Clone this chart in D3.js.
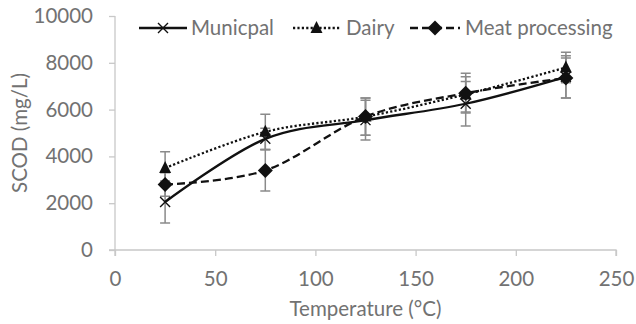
<!DOCTYPE html>
<html>
<head>
<meta charset="utf-8">
<script src="https://cdn.jsdelivr.net/npm/d3@7"></script>
<style>
	body { margin: 0; background: #fff; }
	text { font-family: Lato, "Open Sans", sans-serif; fill: #727272; }
</style>
</head>
<body>
<div id="chart"></div>
<script>

// values
var temps = [25, 75, 125, 175, 225]
var municipal = [2050, 4750, 5550, 6250, 7400]
var municipalErr = [900, 450, 850, 950, 900]
var dairy = [3500, 5050, 5700, 6650, 7800]
var dairyErr = [700, 750, 800, 750, 650]
var meat = [2800, 3400, 5700, 6700, 7350]
var meatErr = [500, 880, 800, 850, 850]
var xTicks = [0, 50, 100, 150, 200, 250]
var yTicks = [0, 2000, 4000, 6000, 8000, 10000]

var width = 636, height = 324
var margin = {top: 16, right: 20, bottom: 74, left: 115}
var fontSize = 20.5

var svg = d3.select("#chart").append("svg")
	.attr("width", width)
	.attr("height", height)

var x = d3.scaleLinear()
	.domain([0, 250])
	.range([margin.left, width - margin.right])

var y = d3.scaleLinear()
	.domain([0, 10000])
	.range([height - margin.bottom, margin.top])

var xAxis = d3.axisBottom(x).tickValues(xTicks).tickSize(6).tickPadding(15).tickFormat(d3.format("d"))
var yAxis = d3.axisLeft(y).tickValues(yTicks).tickSize(6).tickPadding(16).tickFormat(d3.format("d"))

var gx = svg.append("g")
	.attr("transform", "translate(0," + y(0) + ")")
	.call(xAxis)

var gy = svg.append("g")
	.attr("transform", "translate(" + x(0) + ",0)")
	.call(yAxis)

svg.selectAll(".domain, .tick line")
	.attr("stroke", "#c8c8c8")
	.attr("stroke-width", 1.3)
svg.selectAll(".tick text")
	.attr("font-size", fontSize)
	.attr("fill", "#727272")
gy.select(".domain").attr("d", "M0," + y(10000) + "H0V" + y(0) + "H-6")
gx.select(".domain").attr("d", "M" + x(0) + ",6V0H" + x(250) + "V6")

svg.append("text")
	.attr("transform", "rotate(-90)")
	.attr("x", -(y(5000)))
	.attr("y", 27)
	.attr("text-anchor", "middle")
	.attr("font-size", fontSize)
	.text("SCOD (mg/L)")

svg.append("text")
	.attr("x", x(125))
	.attr("y", 316)
	.attr("text-anchor", "middle")
	.attr("font-size", fontSize)
	.text("Temperature (°C)")

var series = [
	{name: "Municpal", values: municipal, err: municipalErr, dash: null, marker: "x"},
	{name: "Dairy", values: dairy, err: dairyErr, dash: "2.2 2.2", marker: "tri"},
	{name: "Meat processing", values: meat, err: meatErr, dash: "8 4", marker: "dia"}
]

var line = d3.line()
	.curve(d3.curveCatmullRom.alpha(0))
	.x(function(d) { return x(d[0]) })
	.y(function(d) { return y(d[1]) })

function drawMarker(g, kind, cx, cy) {
	if (kind == "x") {
		g.append("path")
			.attr("d", "M" + (cx - 5) + "," + (cy - 5) + "L" + (cx + 5) + "," + (cy + 5) + "M" + (cx - 5) + "," + (cy + 5) + "L" + (cx + 5) + "," + (cy - 5))
			.attr("stroke", "#111")
			.attr("stroke-width", 1.4)
	} else if (kind == "tri") {
		g.append("path")
			.attr("d", "M" + cx + "," + (cy - 7) + "L" + (cx + 6) + "," + (cy + 5) + "L" + (cx - 6) + "," + (cy + 5) + "Z")
			.attr("fill", "#111")
	} else {
		g.append("path")
			.attr("d", "M" + cx + "," + (cy - 7.5) + "L" + (cx + 7.5) + "," + cy + "L" + cx + "," + (cy + 7.5) + "L" + (cx - 7.5) + "," + cy + "Z")
			.attr("fill", "#111")
	}
}

// error bars
series.forEach(function(s) {
	var g = svg.append("g")
	s.values.forEach(function(v, i) {
		var cx = x(temps[i])
		g.append("path")
			.attr("d", "M" + cx + "," + y(v - s.err[i]) + "V" + y(v + s.err[i])
				+ "M" + (cx - 5) + "," + y(v - s.err[i]) + "H" + (cx + 5)
				+ "M" + (cx - 5) + "," + y(v + s.err[i]) + "H" + (cx + 5))
			.attr("stroke", "#8a8a8a")
			.attr("stroke-width", 1.5)
			.attr("fill", "none")
	})
})

// lines and markers
series.forEach(function(s) {
	var pts = s.values.map(function(v, i) { return [temps[i], v] })
	svg.append("path")
		.datum(pts)
		.attr("fill", "none")
		.attr("stroke", "#111")
		.attr("stroke-width", 2.3)
		.attr("stroke-dasharray", s.dash)
		.attr("d", line)
	var g = svg.append("g")
	pts.forEach(function(p) { drawMarker(g, s.marker, x(p[0]), y(p[1])) })
})

// legend
var legendPos = [{x0: 139, x1: 187, tx: 191}, {x0: 293, x1: 340, tx: 346}, {x0: 410, x1: 460, tx: 465}]
series.forEach(function(s, i) {
	var lp = legendPos[i]
	var ly = 28
	var g = svg.append("g")
	g.append("line")
		.attr("x1", lp.x0).attr("x2", lp.x1)
		.attr("y1", ly).attr("y2", ly)
		.attr("stroke", "#111")
		.attr("stroke-width", 2.3)
		.attr("stroke-dasharray", s.dash)
	drawMarker(g, s.marker, (lp.x0 + lp.x1) / 2, ly)
	g.append("text")
		.attr("x", lp.tx)
		.attr("y", ly + 7)
		.attr("font-size", fontSize)
		.text(s.name)
})

</script>
</body>
</html>
